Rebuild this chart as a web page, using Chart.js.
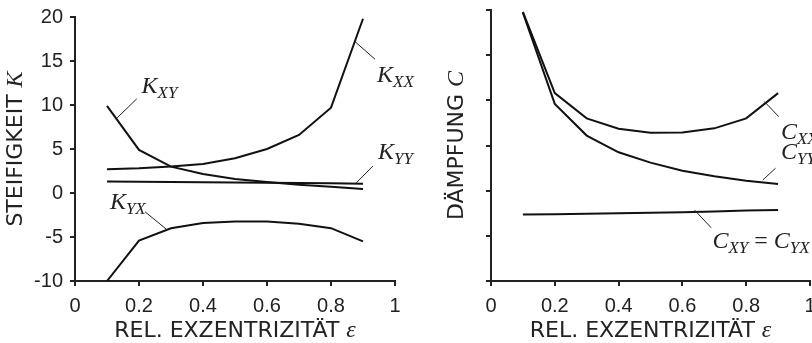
<!DOCTYPE html>
<html>
<head>
<meta charset="utf-8">
<script src="https://cdn.jsdelivr.net/npm/chart.js@4.4.0/dist/chart.umd.min.js"></script>
<style>
  html, body { margin: 0; padding: 0; background: #fff; overflow: hidden; }
  #wrap { position: relative; width: 812px; height: 343px; overflow: hidden; }
  canvas { position: absolute; top: 0; }
  #kChart { left: 0; }
  #cChart { left: 410px; }
</style>
</head>
<body>
<div id="wrap">
  <canvas id="kChart" width="430" height="343"></canvas>
  <canvas id="cChart" width="440" height="343"></canvas>
</div>
<script>
// relative eccentricity
var eps = [0.1, 0.2, 0.3, 0.4, 0.5, 0.6, 0.7, 0.8, 0.9];

// stiffness coefficients
var kXX = [2.7, 2.8, 3.0, 3.3, 3.95, 5.0, 6.6, 9.7, 19.8];
var kXY = [9.9, 4.9, 3.0, 2.15, 1.6, 1.25, 0.95, 0.7, 0.45];
var kYY = [1.3, 1.27, 1.25, 1.22, 1.2, 1.17, 1.13, 1.1, 1.05];
var kYX = [-10, -5.4, -4.0, -3.4, -3.25, -3.25, -3.5, -4.0, -5.5];

// damping coefficients
var cXX = [19.8, 10.8, 8.0, 6.85, 6.4, 6.45, 6.9, 8.0, 10.8];
var cYY = [19.7, 9.6, 6.1, 4.25, 3.1, 2.2, 1.6, 1.1, 0.75];
var cXY = [-2.65, -2.6, -2.55, -2.5, -2.45, -2.4, -2.3, -2.2, -2.15];

var xTicks = [0, 0.2, 0.4, 0.6, 0.8, 1];
var yTicks = [-10, -5, 0, 5, 10, 15, 20];

var INK = '#222';
var mathFonts = {
    i: 'italic 24px "Liberation Serif"',
    s: 'italic 17px "Liberation Serif"',
    o: '24px "Liberation Serif"',
    n: '22px "DejaVu Sans"'
};

function points(ys) {
    return ys.map(function (y, i) { return { x: eps[i], y: y }; });
}

// draws a run of text pieces in mixed fonts, subscripts dropped a bit
function drawRun(ctx, x, y, parts, centered) {
    var w = 0;
    parts.forEach(function (p) {
        ctx.font = mathFonts[p[1]];
        w += ctx.measureText(p[0]).width;
    });
    if (centered) x -= w / 2;
    parts.forEach(function (p) {
        ctx.font = mathFonts[p[1]];
        ctx.fillText(p[0], x, p[1] === 's' ? y + 5 : y);
        x += ctx.measureText(p[0]).width;
    });
}

// curve names with leader lines, given in data units
var curveNotes = {
    id: 'curveNotes',
    afterDatasetsDraw: function (chart) {
        var notes = chart.options.plugins.curveNotes.notes;
        var sx = chart.scales.x, sy = chart.scales.y, ctx = chart.ctx;
        ctx.save();
        ctx.strokeStyle = INK;
        ctx.fillStyle = INK;
        ctx.lineWidth = 1;
        ctx.textAlign = 'left';
        ctx.textBaseline = 'alphabetic';
        notes.forEach(function (n) {
            ctx.beginPath();
            ctx.moveTo(sx.getPixelForValue(n.from[0]), sy.getPixelForValue(n.from[1]));
            ctx.lineTo(sx.getPixelForValue(n.to[0]), sy.getPixelForValue(n.to[1]));
            ctx.stroke();
            drawRun(ctx, sx.getPixelForValue(n.at[0]), sy.getPixelForValue(n.at[1]), n.parts, false);
        });
        ctx.restore();
    }
};

// axis titles with an italic symbol at the end
var axisTitles = {
    id: 'axisTitles',
    afterDraw: function (chart) {
        var o = chart.options.plugins.axisTitles;
        var a = chart.chartArea, ctx = chart.ctx;
        ctx.save();
        ctx.fillStyle = INK;
        ctx.textAlign = 'left';
        ctx.textBaseline = 'alphabetic';
        drawRun(ctx, (a.left + a.right) / 2, o.xBase, o.x, true);
        ctx.translate(o.yBase, (a.top + a.bottom) / 2);
        ctx.rotate(-Math.PI / 2);
        drawRun(ctx, 0, 0, o.y, true);
        ctx.restore();
    }
};

function line(ys) {
    return {
        data: points(ys),
        borderColor: '#111',
        borderWidth: 2,
        pointRadius: 0,
        fill: false,
        tension: 0
    };
}

function axisOpts(pos, size, tickVals, showLabels) {
    return {
        type: 'linear',
        position: pos,
        min: tickVals[0],
        max: tickVals[tickVals.length - 1],
        afterBuildTicks: function (s) {
            s.ticks = tickVals.map(function (v) { return { value: v }; });
        },
        afterFit: function (s) {
            if (pos === 'left') s.width = size; else s.height = size;
        },
        border: { color: INK, width: 2 },
        grid: { drawOnChartArea: false, drawTicks: true, tickLength: 5, color: INK, lineWidth: 2 },
        ticks: {
            display: showLabels,
            color: INK,
            padding: pos === 'left' ? 7 : 10,
            autoSkip: false,
            maxRotation: 0,
            callback: function (v) { return String(v); },
            font: { family: '"Liberation Sans"', size: 20, lineHeight: 1 }
        }
    };
}

function makeChart(id, sets, opts) {
    var ctx = document.getElementById(id).getContext('2d');
    return new Chart(ctx, {
        type: 'line',
        data: { datasets: sets.map(line) },
        options: {
            responsive: false,
            animation: false,
            devicePixelRatio: 1,
            events: [],
            layout: { padding: opts.padding },
            scales: {
                x: axisOpts('bottom', 62, xTicks, true),
                y: axisOpts('left', opts.yWidth, yTicks, opts.yLabels)
            },
            plugins: {
                legend: { display: false },
                tooltip: { enabled: false },
                curveNotes: { notes: opts.notes },
                axisTitles: opts.titles
            }
        },
        plugins: [curveNotes, axisTitles]
    });
}

makeChart('kChart', [kXX, kXY, kYY, kYX], {
    padding: { left: 0, top: 10, right: 35, bottom: 0 },
    yWidth: 75,
    yLabels: true,
    titles: {
        x: [['REL. EXZENTRIZITÄT ', 'n'], ['ε', 'i']],
        y: [['STEIFIGKEIT ', 'n'], ['K', 'i']],
        xBase: 337,
        yBase: 22
    },
    notes: [
        { parts: [['K', 'i'], ['XY', 's']], at: [0.208, 11.4], from: [0.193, 10.7], to: [0.132, 8.55] },
        { parts: [['K', 'i'], ['XX', 's']], at: [0.944, 12.6], from: [0.875, 17.2], to: [0.9375, 15.2] },
        { parts: [['K', 'i'], ['YY', 's']], at: [0.947, 3.85], from: [0.875, 1.0], to: [0.931, 3.07] },
        { parts: [['K', 'i'], ['YX', 's']], at: [0.109, -1.8], from: [0.287, -4.16], to: [0.219, -2.14] }
    ]
});

makeChart('cChart', [cXX, cYY, cXY], {
    padding: { left: 0, top: 10, right: 40, bottom: 0 },
    yWidth: 81,
    yLabels: false,
    titles: {
        x: [['REL. EXZENTRIZITÄT ', 'n'], ['ε', 'i']],
        y: [['DÄMPFUNG ', 'n'], ['C', 'i']],
        xBase: 337,
        yBase: 53
    },
    notes: [
        { parts: [['C', 'i'], ['XX', 's']], at: [0.909, 5.7], from: [0.857, 9.86], to: [0.902, 8.19] },
        { parts: [['C', 'i'], ['YY', 's']], at: [0.909, 3.5], from: [0.852, 1.18], to: [0.892, 2.48] },
        { parts: [['C', 'i'], ['XY', 's'], [' = ', 'o'], ['C', 'i'], ['YX', 's']], at: [0.694, -6.35], from: [0.638, -2.14], to: [0.69, -4.1] }
    ]
});
</script>
</body>
</html>
